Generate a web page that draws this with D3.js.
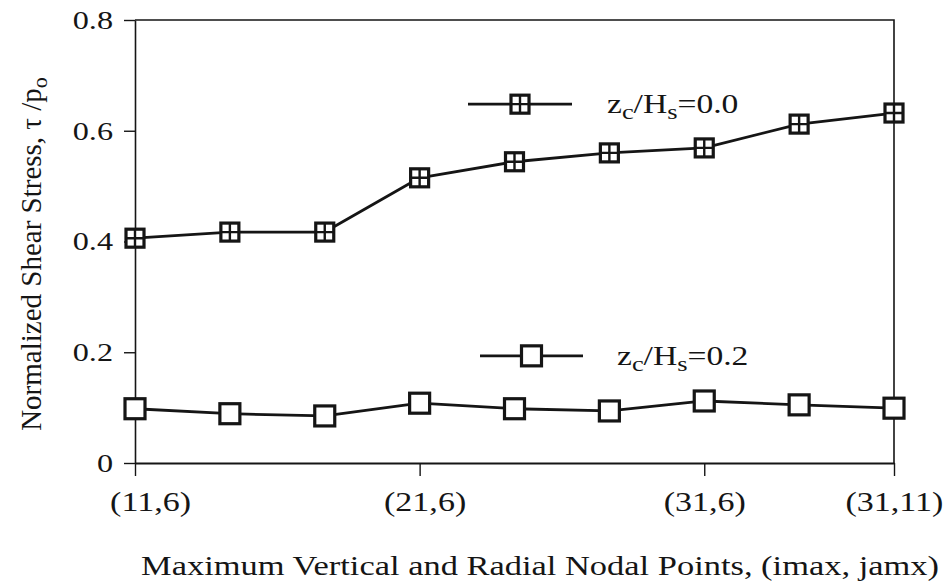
<!DOCTYPE html>
<html><head><meta charset="utf-8">
<script src="https://cdn.jsdelivr.net/npm/d3@7"></script>
<style>
body{margin:0;background:#fff}
text{font-family:"Liberation Serif","Times New Roman",serif;fill:#151515}
</style></head>
<body><svg id="c" width="949" height="582"></svg>
<script>
const categories = ["(11,6)","","","(21,6)","","","(31,6)","","(31,11)"];
const seriesA = [0.406,0.417,0.417,0.515,0.544,0.560,0.569,0.612,0.632]; // zc/Hs=0.0
const seriesB = [0.098,0.089,0.085,0.108,0.098,0.094,0.112,0.105,0.099]; // zc/Hs=0.2
const yTicks = [0,0.2,0.4,0.6,0.8];
const yTickLabels = ["0","0.2","0.4","0.6","0.8"];
const legendLabels = [["z","c","/H","s","=0.0"],["z","c","/H","s","=0.2"]];

const svg = d3.select("#c");
const x = d3.scaleLinear().domain([0, categories.length-1]).range([135, 894]);
const y = d3.scaleLinear().domain([0, 0.8]).range([463, 20]);
const SX = 1.24;
const col = "#151515";

// frame (top + right)
svg.append("path")
  .attr("d", `M${x(0)},${y(0.8)}H${x(8)}V${y(0)}`)
  .attr("fill","none").attr("stroke",col).attr("stroke-width",1.6);

// y axis
const gy = svg.append("g").attr("transform",`translate(${x(0)},0)`)
  .call(d3.axisLeft(y).tickValues(yTicks).tickSize(11).tickSizeOuter(0)
    .tickFormat((d,i)=>yTickLabels[i]));
gy.select(".domain").attr("stroke",col).attr("stroke-width",1.6);
gy.selectAll(".tick line").attr("stroke",col).attr("stroke-width",1.4);
gy.selectAll(".tick text").attr("font-size",26).attr("font-family","Liberation Serif")
  .attr("fill",col).attr("x",-22/SX).attr("transform",`scale(${SX},1)`);

// x axis
const xIdx = categories.map((c,i)=>i).filter(i=>categories[i]!=="");
const gx = svg.append("g").attr("transform",`translate(0,${y(0)})`)
  .call(d3.axisBottom(x).tickValues(xIdx).tickSize(13).tickSizeOuter(0)
    .tickFormat(i=>categories[i]));
gx.select(".domain").attr("stroke",col).attr("stroke-width",1.8);
gx.selectAll(".tick line").attr("stroke",col).attr("stroke-width",1.4);
gx.selectAll(".tick text").attr("font-size",27).attr("font-family","Liberation Serif")
  .attr("fill",col).attr("y",29).attr("dy","0.71em")
  .attr("x",(d,i)=> (i===0?15:(i===1?5:0))/1.26)
  .attr("transform",`scale(1.26,1)`);

// axis titles
svg.append("text")
  .attr("transform",`translate(540,575) scale(1.3,1)`)
  .attr("text-anchor","middle").attr("font-size",26.5)
  .text("Maximum Vertical and Radial Nodal Points, (imax, jamx)");

const yt = svg.append("text")
  .attr("transform",`translate(41,254) rotate(-90)`)
  .attr("text-anchor","middle").attr("font-size",29);
yt.append("tspan").text("Normalized Shear Stress, \u03C4 /p");
yt.append("tspan").attr("dy",6).attr("font-size",22).text("o");

// lines
const line = d3.line().x((d,i)=>x(i)).y(d=>y(d));
[seriesA, seriesB].forEach(s=>{
  svg.append("path").datum(s).attr("d",line)
    .attr("fill","none").attr("stroke",col).attr("stroke-width",2.8)
    .attr("stroke-linejoin","round");
});

function markerA(g, cx, cy){
  const h = 9;
  g.append("rect").attr("x",cx-h).attr("y",cy-h).attr("width",2*h).attr("height",2*h)
    .attr("fill","#fff").attr("stroke",col).attr("stroke-width",3.2);
  g.append("path").attr("d",`M${cx-h},${cy}H${cx+h}M${cx},${cy-h}V${cy+h}`)
    .attr("stroke",col).attr("stroke-width",2.4);
}
function markerB(g, cx, cy){
  const h = 10;
  g.append("rect").attr("x",cx-h).attr("y",cy-h).attr("width",2*h).attr("height",2*h)
    .attr("fill","#fff").attr("stroke",col).attr("stroke-width",3.2);
}
const gm = svg.append("g");
seriesA.forEach((v,i)=>markerA(gm, x(i), y(v)));
seriesB.forEach((v,i)=>markerB(gm, x(i), y(v)));

// legends
const legends = [{x1:468,x2:572,yv:0.648,mk:markerA,lbl:legendLabels[0],tx:607},
                 {x1:480,x2:583,yv:0.1935,mk:markerB,lbl:legendLabels[1],tx:617}];
legends.forEach(L=>{
  const ly = y(L.yv);
  svg.append("line").attr("x1",L.x1).attr("x2",L.x2).attr("y1",ly).attr("y2",ly)
    .attr("stroke",col).attr("stroke-width",2.8);
  L.mk(svg, (L.x1+L.x2)/2, ly);
  const t = svg.append("text").attr("transform",`translate(${L.tx},${ly+9}) scale(1.2,1)`)
    .attr("font-size",28);
  t.append("tspan").text(L.lbl[0]);
  t.append("tspan").attr("dy",6).attr("font-size",22).text(L.lbl[1]);
  t.append("tspan").attr("dy",-6).text(L.lbl[2]);
  t.append("tspan").attr("dy",6).attr("font-size",22).text(L.lbl[3]);
  t.append("tspan").attr("dy",-6).text(L.lbl[4]);
});
</script></body></html>
